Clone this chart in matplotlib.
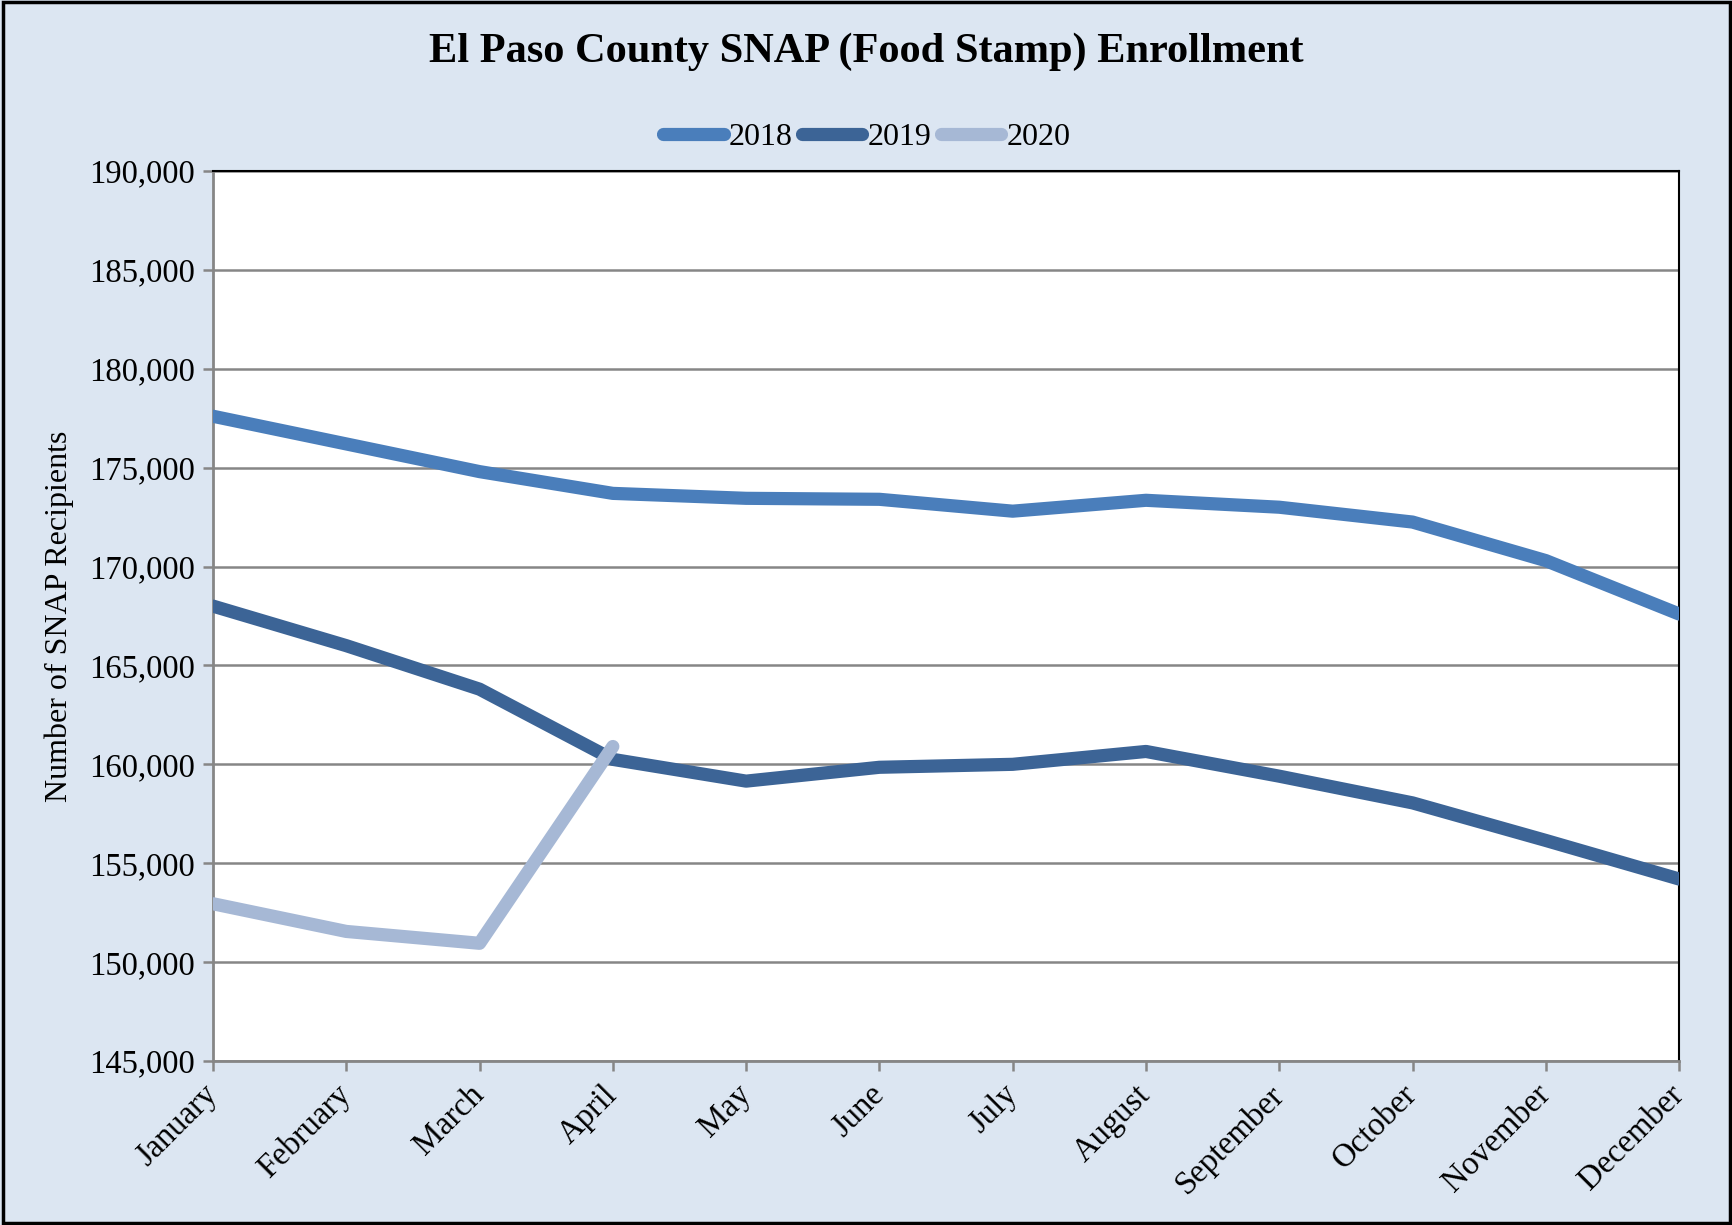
import matplotlib
matplotlib.use("Agg")
import matplotlib.pyplot as plt
from matplotlib.patches import Rectangle
from matplotlib.ticker import FuncFormatter

plt.rcParams['font.family'] = ['Liberation Serif', 'DejaVu Serif']

months = ['January', 'February', 'March', 'April', 'May', 'June', 'July',
          'August', 'September', 'October', 'November', 'December']
snap_2018 = [177600, 176200, 174800, 173700, 173450, 173400, 172800,
             173350, 173000, 172250, 170300, 167600]
snap_2019 = [168000, 166000, 163800, 160250, 159150, 159850, 160000,
             160650, 159400, 158050, 156150, 154200]
snap_2020 = [152950, 151550, 150950, 160900]

bg = '#DCE6F2'
grid_col = '#868686'

fig = plt.figure(figsize=(17.33, 12.25), dpi=100, facecolor=bg)
ax = fig.add_axes([0.1229, 0.1339, 0.8460, 0.7265])
ax.set_facecolor('white')

x = list(range(len(months)))
ax.plot(x, snap_2018, color='#4A7EBB', lw=9.5, solid_capstyle='round', label='2018', zorder=3)
ax.plot(x, snap_2019, color='#3C6496', lw=9.5, solid_capstyle='round', label='2019', zorder=3)
ax.plot(x[:len(snap_2020)], snap_2020, color='#A6B8D5', lw=9.5, solid_capstyle='round',
        label='2020', zorder=4)

ax.set_xlim(0, len(months) - 1)
ax.set_ylim(145000, 190000)
ax.set_yticks(range(145000, 190001, 5000))
ax.yaxis.set_major_formatter(FuncFormatter(lambda v, p: f'{int(v):,}'))
ax.grid(axis='y', color=grid_col, lw=1.8, zorder=1)

ax.set_xticks(x)
ax.set_xticklabels(months, rotation=45, ha='right', va='center', rotation_mode='anchor')
ax.tick_params(axis='x', length=7, width=1.8, color=grid_col, labelsize=23.5, pad=14)
ax.tick_params(axis='y', length=7, width=1.8, color=grid_col, labelsize=23.5, pad=6)

for s in ['left', 'bottom']:
    ax.spines[s].set_color(grid_col)
    ax.spines[s].set_linewidth(2)
for s in ['top', 'right']:
    ax.spines[s].set_color('black')
    ax.spines[s].set_linewidth(1.5)

ax.set_ylabel('Number of SNAP Recipients', fontsize=23)
ax.yaxis.set_label_coords(-0.095, 0.5)

fig.text(0.5, 0.958, 'El Paso County SNAP (Food Stamp) Enrollment',
         ha='center', va='center', fontsize=30.5, fontweight='bold')

leg = fig.legend(loc='center', bbox_to_anchor=(0.5, 0.888), ncol=3, frameon=False,
                 fontsize=23, handlelength=1.9, handletextpad=0.15, columnspacing=0.3)

fig.patches.append(Rectangle((0.002, 0.002), 0.996, 0.996, transform=fig.transFigure,
                             fill=False, edgecolor='black', lw=2.5))

fig.savefig('out.png', dpi=100, facecolor=bg)
